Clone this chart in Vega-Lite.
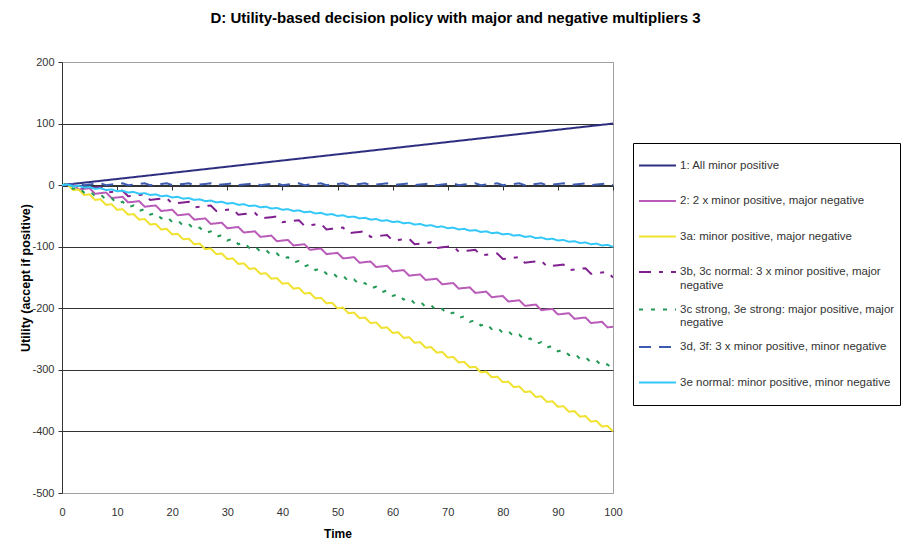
{
"$schema": "https://vega.github.io/schema/vega-lite/v6.json",
"width": 551, "height": 431,
"autosize": "none",
"padding": {"left": 62, "top": 62, "right": 291, "bottom": 46},
"background": "white",
"config": {"font": "Liberation Sans", "view": {"stroke": "#A0A0A0", "strokeWidth": 1}, "axis": {"labelFlush": false}},
"title": {"text": "D: Utility-based decision policy with major and negative multipliers 3", "fontSize": 15, "fontWeight": "bold", "font": "Liberation Sans", "color": "#000", "anchor": "middle", "dx": 118, "offset": 30},
"data": {"values": [
{"t":0,"s":"1","v":0},{"t":1,"s":"1","v":1},{"t":2,"s":"1","v":2},{"t":3,"s":"1","v":3},{"t":4,"s":"1","v":4},{"t":5,"s":"1","v":5},{"t":6,"s":"1","v":6},{"t":7,"s":"1","v":7},{"t":8,"s":"1","v":8},{"t":9,"s":"1","v":9},{"t":10,"s":"1","v":10},{"t":11,"s":"1","v":11},{"t":12,"s":"1","v":12},{"t":13,"s":"1","v":13},{"t":14,"s":"1","v":14},{"t":15,"s":"1","v":15},{"t":16,"s":"1","v":16},{"t":17,"s":"1","v":17},{"t":18,"s":"1","v":18},{"t":19,"s":"1","v":19},{"t":20,"s":"1","v":20},{"t":21,"s":"1","v":21},{"t":22,"s":"1","v":22},{"t":23,"s":"1","v":23},{"t":24,"s":"1","v":24},{"t":25,"s":"1","v":25},{"t":26,"s":"1","v":26},{"t":27,"s":"1","v":27},{"t":28,"s":"1","v":28},{"t":29,"s":"1","v":29},{"t":30,"s":"1","v":30},{"t":31,"s":"1","v":31},{"t":32,"s":"1","v":32},{"t":33,"s":"1","v":33},{"t":34,"s":"1","v":34},{"t":35,"s":"1","v":35},{"t":36,"s":"1","v":36},{"t":37,"s":"1","v":37},{"t":38,"s":"1","v":38},{"t":39,"s":"1","v":39},{"t":40,"s":"1","v":40},{"t":41,"s":"1","v":41},{"t":42,"s":"1","v":42},{"t":43,"s":"1","v":43},{"t":44,"s":"1","v":44},{"t":45,"s":"1","v":45},{"t":46,"s":"1","v":46},{"t":47,"s":"1","v":47},{"t":48,"s":"1","v":48},{"t":49,"s":"1","v":49},{"t":50,"s":"1","v":50},{"t":51,"s":"1","v":51},{"t":52,"s":"1","v":52},{"t":53,"s":"1","v":53},{"t":54,"s":"1","v":54},{"t":55,"s":"1","v":55},{"t":56,"s":"1","v":56},{"t":57,"s":"1","v":57},{"t":58,"s":"1","v":58},{"t":59,"s":"1","v":59},{"t":60,"s":"1","v":60},{"t":61,"s":"1","v":61},{"t":62,"s":"1","v":62},{"t":63,"s":"1","v":63},{"t":64,"s":"1","v":64},{"t":65,"s":"1","v":65},{"t":66,"s":"1","v":66},{"t":67,"s":"1","v":67},{"t":68,"s":"1","v":68},{"t":69,"s":"1","v":69},{"t":70,"s":"1","v":70},{"t":71,"s":"1","v":71},{"t":72,"s":"1","v":72},{"t":73,"s":"1","v":73},{"t":74,"s":"1","v":74},{"t":75,"s":"1","v":75},{"t":76,"s":"1","v":76},{"t":77,"s":"1","v":77},{"t":78,"s":"1","v":78},{"t":79,"s":"1","v":79},{"t":80,"s":"1","v":80},{"t":81,"s":"1","v":81},{"t":82,"s":"1","v":82},{"t":83,"s":"1","v":83},{"t":84,"s":"1","v":84},{"t":85,"s":"1","v":85},{"t":86,"s":"1","v":86},{"t":87,"s":"1","v":87},{"t":88,"s":"1","v":88},{"t":89,"s":"1","v":89},{"t":90,"s":"1","v":90},{"t":91,"s":"1","v":91},{"t":92,"s":"1","v":92},{"t":93,"s":"1","v":93},{"t":94,"s":"1","v":94},{"t":95,"s":"1","v":95},{"t":96,"s":"1","v":96},{"t":97,"s":"1","v":97},{"t":98,"s":"1","v":98},{"t":99,"s":"1","v":99},{"t":100,"s":"1","v":100},
{"t":0,"s":"2","v":0},{"t":1,"s":"2","v":1},{"t":2,"s":"2","v":2},{"t":3,"s":"2","v":-7},{"t":4,"s":"2","v":-6},{"t":5,"s":"2","v":-5},{"t":6,"s":"2","v":-14},{"t":7,"s":"2","v":-13},{"t":8,"s":"2","v":-12},{"t":9,"s":"2","v":-21},{"t":10,"s":"2","v":-20},{"t":11,"s":"2","v":-19},{"t":12,"s":"2","v":-28},{"t":13,"s":"2","v":-27},{"t":14,"s":"2","v":-26},{"t":15,"s":"2","v":-35},{"t":16,"s":"2","v":-34},{"t":17,"s":"2","v":-33},{"t":18,"s":"2","v":-42},{"t":19,"s":"2","v":-41},{"t":20,"s":"2","v":-40},{"t":21,"s":"2","v":-49},{"t":22,"s":"2","v":-48},{"t":23,"s":"2","v":-47},{"t":24,"s":"2","v":-56},{"t":25,"s":"2","v":-55},{"t":26,"s":"2","v":-54},{"t":27,"s":"2","v":-63},{"t":28,"s":"2","v":-62},{"t":29,"s":"2","v":-61},{"t":30,"s":"2","v":-70},{"t":31,"s":"2","v":-69},{"t":32,"s":"2","v":-68},{"t":33,"s":"2","v":-77},{"t":34,"s":"2","v":-76},{"t":35,"s":"2","v":-75},{"t":36,"s":"2","v":-84},{"t":37,"s":"2","v":-83},{"t":38,"s":"2","v":-82},{"t":39,"s":"2","v":-91},{"t":40,"s":"2","v":-90},{"t":41,"s":"2","v":-89},{"t":42,"s":"2","v":-98},{"t":43,"s":"2","v":-97},{"t":44,"s":"2","v":-96},{"t":45,"s":"2","v":-105},{"t":46,"s":"2","v":-104},{"t":47,"s":"2","v":-103},{"t":48,"s":"2","v":-112},{"t":49,"s":"2","v":-111},{"t":50,"s":"2","v":-110},{"t":51,"s":"2","v":-119},{"t":52,"s":"2","v":-118},{"t":53,"s":"2","v":-117},{"t":54,"s":"2","v":-126},{"t":55,"s":"2","v":-125},{"t":56,"s":"2","v":-124},{"t":57,"s":"2","v":-133},{"t":58,"s":"2","v":-132},{"t":59,"s":"2","v":-131},{"t":60,"s":"2","v":-140},{"t":61,"s":"2","v":-139},{"t":62,"s":"2","v":-138},{"t":63,"s":"2","v":-147},{"t":64,"s":"2","v":-146},{"t":65,"s":"2","v":-145},{"t":66,"s":"2","v":-154},{"t":67,"s":"2","v":-153},{"t":68,"s":"2","v":-152},{"t":69,"s":"2","v":-161},{"t":70,"s":"2","v":-160},{"t":71,"s":"2","v":-159},{"t":72,"s":"2","v":-168},{"t":73,"s":"2","v":-167},{"t":74,"s":"2","v":-166},{"t":75,"s":"2","v":-175},{"t":76,"s":"2","v":-174},{"t":77,"s":"2","v":-173},{"t":78,"s":"2","v":-182},{"t":79,"s":"2","v":-181},{"t":80,"s":"2","v":-180},{"t":81,"s":"2","v":-189},{"t":82,"s":"2","v":-188},{"t":83,"s":"2","v":-187},{"t":84,"s":"2","v":-196},{"t":85,"s":"2","v":-195},{"t":86,"s":"2","v":-194},{"t":87,"s":"2","v":-203},{"t":88,"s":"2","v":-202},{"t":89,"s":"2","v":-201},{"t":90,"s":"2","v":-210},{"t":91,"s":"2","v":-209},{"t":92,"s":"2","v":-208},{"t":93,"s":"2","v":-217},{"t":94,"s":"2","v":-216},{"t":95,"s":"2","v":-215},{"t":96,"s":"2","v":-224},{"t":97,"s":"2","v":-223},{"t":98,"s":"2","v":-222},{"t":99,"s":"2","v":-231},{"t":100,"s":"2","v":-230},
{"t":0,"s":"3a","v":0},{"t":1,"s":"3a","v":1},{"t":2,"s":"3a","v":-8},{"t":3,"s":"3a","v":-7},{"t":4,"s":"3a","v":-16},{"t":5,"s":"3a","v":-15},{"t":6,"s":"3a","v":-24},{"t":7,"s":"3a","v":-23},{"t":8,"s":"3a","v":-32},{"t":9,"s":"3a","v":-31},{"t":10,"s":"3a","v":-40},{"t":11,"s":"3a","v":-39},{"t":12,"s":"3a","v":-48},{"t":13,"s":"3a","v":-47},{"t":14,"s":"3a","v":-56},{"t":15,"s":"3a","v":-55},{"t":16,"s":"3a","v":-64},{"t":17,"s":"3a","v":-63},{"t":18,"s":"3a","v":-72},{"t":19,"s":"3a","v":-71},{"t":20,"s":"3a","v":-80},{"t":21,"s":"3a","v":-79},{"t":22,"s":"3a","v":-88},{"t":23,"s":"3a","v":-87},{"t":24,"s":"3a","v":-96},{"t":25,"s":"3a","v":-95},{"t":26,"s":"3a","v":-104},{"t":27,"s":"3a","v":-103},{"t":28,"s":"3a","v":-112},{"t":29,"s":"3a","v":-111},{"t":30,"s":"3a","v":-120},{"t":31,"s":"3a","v":-119},{"t":32,"s":"3a","v":-128},{"t":33,"s":"3a","v":-127},{"t":34,"s":"3a","v":-136},{"t":35,"s":"3a","v":-135},{"t":36,"s":"3a","v":-144},{"t":37,"s":"3a","v":-143},{"t":38,"s":"3a","v":-152},{"t":39,"s":"3a","v":-151},{"t":40,"s":"3a","v":-160},{"t":41,"s":"3a","v":-159},{"t":42,"s":"3a","v":-168},{"t":43,"s":"3a","v":-167},{"t":44,"s":"3a","v":-176},{"t":45,"s":"3a","v":-175},{"t":46,"s":"3a","v":-184},{"t":47,"s":"3a","v":-183},{"t":48,"s":"3a","v":-192},{"t":49,"s":"3a","v":-191},{"t":50,"s":"3a","v":-200},{"t":51,"s":"3a","v":-199},{"t":52,"s":"3a","v":-208},{"t":53,"s":"3a","v":-207},{"t":54,"s":"3a","v":-216},{"t":55,"s":"3a","v":-215},{"t":56,"s":"3a","v":-224},{"t":57,"s":"3a","v":-223},{"t":58,"s":"3a","v":-232},{"t":59,"s":"3a","v":-231},{"t":60,"s":"3a","v":-240},{"t":61,"s":"3a","v":-239},{"t":62,"s":"3a","v":-248},{"t":63,"s":"3a","v":-247},{"t":64,"s":"3a","v":-256},{"t":65,"s":"3a","v":-255},{"t":66,"s":"3a","v":-264},{"t":67,"s":"3a","v":-263},{"t":68,"s":"3a","v":-272},{"t":69,"s":"3a","v":-271},{"t":70,"s":"3a","v":-280},{"t":71,"s":"3a","v":-279},{"t":72,"s":"3a","v":-288},{"t":73,"s":"3a","v":-287},{"t":74,"s":"3a","v":-296},{"t":75,"s":"3a","v":-295},{"t":76,"s":"3a","v":-304},{"t":77,"s":"3a","v":-303},{"t":78,"s":"3a","v":-312},{"t":79,"s":"3a","v":-311},{"t":80,"s":"3a","v":-320},{"t":81,"s":"3a","v":-319},{"t":82,"s":"3a","v":-328},{"t":83,"s":"3a","v":-327},{"t":84,"s":"3a","v":-336},{"t":85,"s":"3a","v":-335},{"t":86,"s":"3a","v":-344},{"t":87,"s":"3a","v":-343},{"t":88,"s":"3a","v":-352},{"t":89,"s":"3a","v":-351},{"t":90,"s":"3a","v":-360},{"t":91,"s":"3a","v":-359},{"t":92,"s":"3a","v":-368},{"t":93,"s":"3a","v":-367},{"t":94,"s":"3a","v":-376},{"t":95,"s":"3a","v":-375},{"t":96,"s":"3a","v":-384},{"t":97,"s":"3a","v":-383},{"t":98,"s":"3a","v":-392},{"t":99,"s":"3a","v":-391},{"t":100,"s":"3a","v":-400},
{"t":0,"s":"3b","v":0},{"t":1,"s":"3b","v":1},{"t":2,"s":"3b","v":2},{"t":3,"s":"3b","v":3},{"t":4,"s":"3b","v":-6},{"t":5,"s":"3b","v":-5},{"t":6,"s":"3b","v":-4},{"t":7,"s":"3b","v":-3},{"t":8,"s":"3b","v":-12},{"t":9,"s":"3b","v":-11},{"t":10,"s":"3b","v":-10},{"t":11,"s":"3b","v":-9},{"t":12,"s":"3b","v":-18},{"t":13,"s":"3b","v":-17},{"t":14,"s":"3b","v":-16},{"t":15,"s":"3b","v":-15},{"t":16,"s":"3b","v":-24},{"t":17,"s":"3b","v":-23},{"t":18,"s":"3b","v":-22},{"t":19,"s":"3b","v":-21},{"t":20,"s":"3b","v":-30},{"t":21,"s":"3b","v":-29},{"t":22,"s":"3b","v":-28},{"t":23,"s":"3b","v":-27},{"t":24,"s":"3b","v":-36},{"t":25,"s":"3b","v":-35},{"t":26,"s":"3b","v":-34},{"t":27,"s":"3b","v":-33},{"t":28,"s":"3b","v":-42},{"t":29,"s":"3b","v":-41},{"t":30,"s":"3b","v":-40},{"t":31,"s":"3b","v":-39},{"t":32,"s":"3b","v":-48},{"t":33,"s":"3b","v":-47},{"t":34,"s":"3b","v":-46},{"t":35,"s":"3b","v":-45},{"t":36,"s":"3b","v":-54},{"t":37,"s":"3b","v":-53},{"t":38,"s":"3b","v":-52},{"t":39,"s":"3b","v":-51},{"t":40,"s":"3b","v":-60},{"t":41,"s":"3b","v":-59},{"t":42,"s":"3b","v":-58},{"t":43,"s":"3b","v":-57},{"t":44,"s":"3b","v":-66},{"t":45,"s":"3b","v":-65},{"t":46,"s":"3b","v":-64},{"t":47,"s":"3b","v":-63},{"t":48,"s":"3b","v":-72},{"t":49,"s":"3b","v":-71},{"t":50,"s":"3b","v":-70},{"t":51,"s":"3b","v":-69},{"t":52,"s":"3b","v":-78},{"t":53,"s":"3b","v":-77},{"t":54,"s":"3b","v":-76},{"t":55,"s":"3b","v":-75},{"t":56,"s":"3b","v":-84},{"t":57,"s":"3b","v":-83},{"t":58,"s":"3b","v":-82},{"t":59,"s":"3b","v":-81},{"t":60,"s":"3b","v":-90},{"t":61,"s":"3b","v":-89},{"t":62,"s":"3b","v":-88},{"t":63,"s":"3b","v":-87},{"t":64,"s":"3b","v":-96},{"t":65,"s":"3b","v":-95},{"t":66,"s":"3b","v":-94},{"t":67,"s":"3b","v":-93},{"t":68,"s":"3b","v":-102},{"t":69,"s":"3b","v":-101},{"t":70,"s":"3b","v":-100},{"t":71,"s":"3b","v":-99},{"t":72,"s":"3b","v":-108},{"t":73,"s":"3b","v":-107},{"t":74,"s":"3b","v":-106},{"t":75,"s":"3b","v":-105},{"t":76,"s":"3b","v":-114},{"t":77,"s":"3b","v":-113},{"t":78,"s":"3b","v":-112},{"t":79,"s":"3b","v":-111},{"t":80,"s":"3b","v":-120},{"t":81,"s":"3b","v":-119},{"t":82,"s":"3b","v":-118},{"t":83,"s":"3b","v":-117},{"t":84,"s":"3b","v":-126},{"t":85,"s":"3b","v":-125},{"t":86,"s":"3b","v":-124},{"t":87,"s":"3b","v":-123},{"t":88,"s":"3b","v":-132},{"t":89,"s":"3b","v":-131},{"t":90,"s":"3b","v":-130},{"t":91,"s":"3b","v":-129},{"t":92,"s":"3b","v":-138},{"t":93,"s":"3b","v":-137},{"t":94,"s":"3b","v":-136},{"t":95,"s":"3b","v":-135},{"t":96,"s":"3b","v":-144},{"t":97,"s":"3b","v":-143},{"t":98,"s":"3b","v":-142},{"t":99,"s":"3b","v":-141},{"t":100,"s":"3b","v":-150},
{"t":0,"s":"3c","v":0},{"t":1,"s":"3c","v":3},{"t":2,"s":"3c","v":-6},{"t":3,"s":"3c","v":-3},{"t":4,"s":"3c","v":-12},{"t":5,"s":"3c","v":-9},{"t":6,"s":"3c","v":-18},{"t":7,"s":"3c","v":-15},{"t":8,"s":"3c","v":-24},{"t":9,"s":"3c","v":-21},{"t":10,"s":"3c","v":-30},{"t":11,"s":"3c","v":-27},{"t":12,"s":"3c","v":-36},{"t":13,"s":"3c","v":-33},{"t":14,"s":"3c","v":-42},{"t":15,"s":"3c","v":-39},{"t":16,"s":"3c","v":-48},{"t":17,"s":"3c","v":-45},{"t":18,"s":"3c","v":-54},{"t":19,"s":"3c","v":-51},{"t":20,"s":"3c","v":-60},{"t":21,"s":"3c","v":-57},{"t":22,"s":"3c","v":-66},{"t":23,"s":"3c","v":-63},{"t":24,"s":"3c","v":-72},{"t":25,"s":"3c","v":-69},{"t":26,"s":"3c","v":-78},{"t":27,"s":"3c","v":-75},{"t":28,"s":"3c","v":-84},{"t":29,"s":"3c","v":-81},{"t":30,"s":"3c","v":-90},{"t":31,"s":"3c","v":-87},{"t":32,"s":"3c","v":-96},{"t":33,"s":"3c","v":-93},{"t":34,"s":"3c","v":-102},{"t":35,"s":"3c","v":-99},{"t":36,"s":"3c","v":-108},{"t":37,"s":"3c","v":-105},{"t":38,"s":"3c","v":-114},{"t":39,"s":"3c","v":-111},{"t":40,"s":"3c","v":-120},{"t":41,"s":"3c","v":-117},{"t":42,"s":"3c","v":-126},{"t":43,"s":"3c","v":-123},{"t":44,"s":"3c","v":-132},{"t":45,"s":"3c","v":-129},{"t":46,"s":"3c","v":-138},{"t":47,"s":"3c","v":-135},{"t":48,"s":"3c","v":-144},{"t":49,"s":"3c","v":-141},{"t":50,"s":"3c","v":-150},{"t":51,"s":"3c","v":-147},{"t":52,"s":"3c","v":-156},{"t":53,"s":"3c","v":-153},{"t":54,"s":"3c","v":-162},{"t":55,"s":"3c","v":-159},{"t":56,"s":"3c","v":-168},{"t":57,"s":"3c","v":-165},{"t":58,"s":"3c","v":-174},{"t":59,"s":"3c","v":-171},{"t":60,"s":"3c","v":-180},{"t":61,"s":"3c","v":-177},{"t":62,"s":"3c","v":-186},{"t":63,"s":"3c","v":-183},{"t":64,"s":"3c","v":-192},{"t":65,"s":"3c","v":-189},{"t":66,"s":"3c","v":-198},{"t":67,"s":"3c","v":-195},{"t":68,"s":"3c","v":-204},{"t":69,"s":"3c","v":-201},{"t":70,"s":"3c","v":-210},{"t":71,"s":"3c","v":-207},{"t":72,"s":"3c","v":-216},{"t":73,"s":"3c","v":-213},{"t":74,"s":"3c","v":-222},{"t":75,"s":"3c","v":-219},{"t":76,"s":"3c","v":-228},{"t":77,"s":"3c","v":-225},{"t":78,"s":"3c","v":-234},{"t":79,"s":"3c","v":-231},{"t":80,"s":"3c","v":-240},{"t":81,"s":"3c","v":-237},{"t":82,"s":"3c","v":-246},{"t":83,"s":"3c","v":-243},{"t":84,"s":"3c","v":-252},{"t":85,"s":"3c","v":-249},{"t":86,"s":"3c","v":-258},{"t":87,"s":"3c","v":-255},{"t":88,"s":"3c","v":-264},{"t":89,"s":"3c","v":-261},{"t":90,"s":"3c","v":-270},{"t":91,"s":"3c","v":-267},{"t":92,"s":"3c","v":-276},{"t":93,"s":"3c","v":-273},{"t":94,"s":"3c","v":-282},{"t":95,"s":"3c","v":-279},{"t":96,"s":"3c","v":-288},{"t":97,"s":"3c","v":-285},{"t":98,"s":"3c","v":-294},{"t":99,"s":"3c","v":-291},{"t":100,"s":"3c","v":-300},
{"t":0,"s":"3d","v":0},{"t":1,"s":"3d","v":1},{"t":2,"s":"3d","v":2},{"t":3,"s":"3d","v":3},{"t":4,"s":"3d","v":0},{"t":5,"s":"3d","v":1},{"t":6,"s":"3d","v":2},{"t":7,"s":"3d","v":3},{"t":8,"s":"3d","v":0},{"t":9,"s":"3d","v":1},{"t":10,"s":"3d","v":2},{"t":11,"s":"3d","v":3},{"t":12,"s":"3d","v":0},{"t":13,"s":"3d","v":1},{"t":14,"s":"3d","v":2},{"t":15,"s":"3d","v":3},{"t":16,"s":"3d","v":0},{"t":17,"s":"3d","v":1},{"t":18,"s":"3d","v":2},{"t":19,"s":"3d","v":3},{"t":20,"s":"3d","v":0},{"t":21,"s":"3d","v":1},{"t":22,"s":"3d","v":2},{"t":23,"s":"3d","v":3},{"t":24,"s":"3d","v":0},{"t":25,"s":"3d","v":1},{"t":26,"s":"3d","v":2},{"t":27,"s":"3d","v":3},{"t":28,"s":"3d","v":0},{"t":29,"s":"3d","v":1},{"t":30,"s":"3d","v":2},{"t":31,"s":"3d","v":3},{"t":32,"s":"3d","v":0},{"t":33,"s":"3d","v":1},{"t":34,"s":"3d","v":2},{"t":35,"s":"3d","v":3},{"t":36,"s":"3d","v":0},{"t":37,"s":"3d","v":1},{"t":38,"s":"3d","v":2},{"t":39,"s":"3d","v":3},{"t":40,"s":"3d","v":0},{"t":41,"s":"3d","v":1},{"t":42,"s":"3d","v":2},{"t":43,"s":"3d","v":3},{"t":44,"s":"3d","v":0},{"t":45,"s":"3d","v":1},{"t":46,"s":"3d","v":2},{"t":47,"s":"3d","v":3},{"t":48,"s":"3d","v":0},{"t":49,"s":"3d","v":1},{"t":50,"s":"3d","v":2},{"t":51,"s":"3d","v":3},{"t":52,"s":"3d","v":0},{"t":53,"s":"3d","v":1},{"t":54,"s":"3d","v":2},{"t":55,"s":"3d","v":3},{"t":56,"s":"3d","v":0},{"t":57,"s":"3d","v":1},{"t":58,"s":"3d","v":2},{"t":59,"s":"3d","v":3},{"t":60,"s":"3d","v":0},{"t":61,"s":"3d","v":1},{"t":62,"s":"3d","v":2},{"t":63,"s":"3d","v":3},{"t":64,"s":"3d","v":0},{"t":65,"s":"3d","v":1},{"t":66,"s":"3d","v":2},{"t":67,"s":"3d","v":3},{"t":68,"s":"3d","v":0},{"t":69,"s":"3d","v":1},{"t":70,"s":"3d","v":2},{"t":71,"s":"3d","v":3},{"t":72,"s":"3d","v":0},{"t":73,"s":"3d","v":1},{"t":74,"s":"3d","v":2},{"t":75,"s":"3d","v":3},{"t":76,"s":"3d","v":0},{"t":77,"s":"3d","v":1},{"t":78,"s":"3d","v":2},{"t":79,"s":"3d","v":3},{"t":80,"s":"3d","v":0},{"t":81,"s":"3d","v":1},{"t":82,"s":"3d","v":2},{"t":83,"s":"3d","v":3},{"t":84,"s":"3d","v":0},{"t":85,"s":"3d","v":1},{"t":86,"s":"3d","v":2},{"t":87,"s":"3d","v":3},{"t":88,"s":"3d","v":0},{"t":89,"s":"3d","v":1},{"t":90,"s":"3d","v":2},{"t":91,"s":"3d","v":3},{"t":92,"s":"3d","v":0},{"t":93,"s":"3d","v":1},{"t":94,"s":"3d","v":2},{"t":95,"s":"3d","v":3},{"t":96,"s":"3d","v":0},{"t":97,"s":"3d","v":1},{"t":98,"s":"3d","v":2},{"t":99,"s":"3d","v":3},{"t":100,"s":"3d","v":0},
{"t":0,"s":"3e","v":0},{"t":1,"s":"3e","v":1},{"t":2,"s":"3e","v":-2},{"t":3,"s":"3e","v":-1},{"t":4,"s":"3e","v":-4},{"t":5,"s":"3e","v":-3},{"t":6,"s":"3e","v":-6},{"t":7,"s":"3e","v":-5},{"t":8,"s":"3e","v":-8},{"t":9,"s":"3e","v":-7},{"t":10,"s":"3e","v":-10},{"t":11,"s":"3e","v":-9},{"t":12,"s":"3e","v":-12},{"t":13,"s":"3e","v":-11},{"t":14,"s":"3e","v":-14},{"t":15,"s":"3e","v":-13},{"t":16,"s":"3e","v":-16},{"t":17,"s":"3e","v":-15},{"t":18,"s":"3e","v":-18},{"t":19,"s":"3e","v":-17},{"t":20,"s":"3e","v":-20},{"t":21,"s":"3e","v":-19},{"t":22,"s":"3e","v":-22},{"t":23,"s":"3e","v":-21},{"t":24,"s":"3e","v":-24},{"t":25,"s":"3e","v":-23},{"t":26,"s":"3e","v":-26},{"t":27,"s":"3e","v":-25},{"t":28,"s":"3e","v":-28},{"t":29,"s":"3e","v":-27},{"t":30,"s":"3e","v":-30},{"t":31,"s":"3e","v":-29},{"t":32,"s":"3e","v":-32},{"t":33,"s":"3e","v":-31},{"t":34,"s":"3e","v":-34},{"t":35,"s":"3e","v":-33},{"t":36,"s":"3e","v":-36},{"t":37,"s":"3e","v":-35},{"t":38,"s":"3e","v":-38},{"t":39,"s":"3e","v":-37},{"t":40,"s":"3e","v":-40},{"t":41,"s":"3e","v":-39},{"t":42,"s":"3e","v":-42},{"t":43,"s":"3e","v":-41},{"t":44,"s":"3e","v":-44},{"t":45,"s":"3e","v":-43},{"t":46,"s":"3e","v":-46},{"t":47,"s":"3e","v":-45},{"t":48,"s":"3e","v":-48},{"t":49,"s":"3e","v":-47},{"t":50,"s":"3e","v":-50},{"t":51,"s":"3e","v":-49},{"t":52,"s":"3e","v":-52},{"t":53,"s":"3e","v":-51},{"t":54,"s":"3e","v":-54},{"t":55,"s":"3e","v":-53},{"t":56,"s":"3e","v":-56},{"t":57,"s":"3e","v":-55},{"t":58,"s":"3e","v":-58},{"t":59,"s":"3e","v":-57},{"t":60,"s":"3e","v":-60},{"t":61,"s":"3e","v":-59},{"t":62,"s":"3e","v":-62},{"t":63,"s":"3e","v":-61},{"t":64,"s":"3e","v":-64},{"t":65,"s":"3e","v":-63},{"t":66,"s":"3e","v":-66},{"t":67,"s":"3e","v":-65},{"t":68,"s":"3e","v":-68},{"t":69,"s":"3e","v":-67},{"t":70,"s":"3e","v":-70},{"t":71,"s":"3e","v":-69},{"t":72,"s":"3e","v":-72},{"t":73,"s":"3e","v":-71},{"t":74,"s":"3e","v":-74},{"t":75,"s":"3e","v":-73},{"t":76,"s":"3e","v":-76},{"t":77,"s":"3e","v":-75},{"t":78,"s":"3e","v":-78},{"t":79,"s":"3e","v":-77},{"t":80,"s":"3e","v":-80},{"t":81,"s":"3e","v":-79},{"t":82,"s":"3e","v":-82},{"t":83,"s":"3e","v":-81},{"t":84,"s":"3e","v":-84},{"t":85,"s":"3e","v":-83},{"t":86,"s":"3e","v":-86},{"t":87,"s":"3e","v":-85},{"t":88,"s":"3e","v":-88},{"t":89,"s":"3e","v":-87},{"t":90,"s":"3e","v":-90},{"t":91,"s":"3e","v":-89},{"t":92,"s":"3e","v":-92},{"t":93,"s":"3e","v":-91},{"t":94,"s":"3e","v":-94},{"t":95,"s":"3e","v":-93},{"t":96,"s":"3e","v":-96},{"t":97,"s":"3e","v":-95},{"t":98,"s":"3e","v":-98},{"t":99,"s":"3e","v":-97},{"t":100,"s":"3e","v":-100}
]},
"mark": {"type": "line", "strokeWidth": 2, "clip": true},
"encoding": {
  "x": {"field": "t", "type": "quantitative", "scale": {"domain": [0, 100], "nice": false, "zero": false},
    "axis": {"title": "Time", "values": [0,10,20,30,40,50,60,70,80,90,100], "offset": -307, "grid": false,
      "domainColor": "#333", "domainWidth": 1, "tickColor": "#333", "tickSize": 4, "labelPadding": 316,
      "labelFont": "Liberation Sans", "labelFontSize": 11, "labelColor": "#333",
      "titleFont": "Liberation Sans", "titleFontSize": 12, "titleFontWeight": "bold", "titleColor": "#000",
      "titleY": 347, "titleBaseline": "middle"}},
  "y": {"field": "v", "type": "quantitative", "scale": {"domain": [-500, 200], "nice": false, "zero": false},
    "axis": {"title": "Utility (accept if positive)", "values": [200,100,0,-100,-200,-300,-400,-500],
      "labelExpr": "'' + datum.value",
      "grid": true, "gridColor": {"condition": {"test": "datum.value === 200 || datum.value === -500", "value": "#A0A0A0"}, "value": "#333"},
      "domainColor": "#333", "tickColor": "#333", "tickSize": 4, "labelPadding": 4,
      "labelFont": "Liberation Sans", "labelFontSize": 11, "labelColor": "#333",
      "titleFont": "Liberation Sans", "titleFontSize": 12.5, "titleFontWeight": "bold", "titleColor": "#000",
      "titleX": -37, "titleY": 215.5, "titleAngle": -90, "titleBaseline": "middle", "titleAlign": "center"}},
  "color": {"field": "s", "type": "nominal",
    "scale": {"domain": ["1","2","3a","3b","3c","3d","3e"], "range": ["#2E2E80","#B95BB9","#F0E22E","#802090","#229955","#3D5BB0","#33C8F8"]},
    "legend": {"orient": "none", "legendX": 571, "legendY": 81, "title": null,
      "symbolType": "stroke", "symbolSize": 1369, "symbolStrokeWidth": 2,
      "labelFont": "Liberation Sans", "labelFontSize": 11.5, "labelColor": "#333", "labelLimit": 400, "labelOffset": 3,
      "clipHeight": 35, "rowPadding": 0.5, "padding": 5, "strokeColor": "#000", "fillColor": "#fff",
      "labelExpr": "datum.label == '1' ? '1: All minor positive' : datum.label == '2' ? '2: 2 x minor positive, major negative' : datum.label == '3a' ? '3a: minor positive, major negative' : datum.label == '3b' ? ['3b, 3c normal: 3 x minor positive, major', 'negative'] : datum.label == '3c' ? ['3c strong, 3e strong: major positive, major', 'negative'] : datum.label == '3d' ? '3d, 3f: 3 x minor positive, minor negative' : '3e normal: minor positive, minor negative'"}},
  "strokeDash": {"field": "s", "type": "nominal",
    "scale": {"domain": ["1","2","3a","3b","3c","3d","3e"], "range": [[1,0],[1,0],[1,0],[12,8,4,8],[4,8],[12,8],[1,0]]}}
}
}
